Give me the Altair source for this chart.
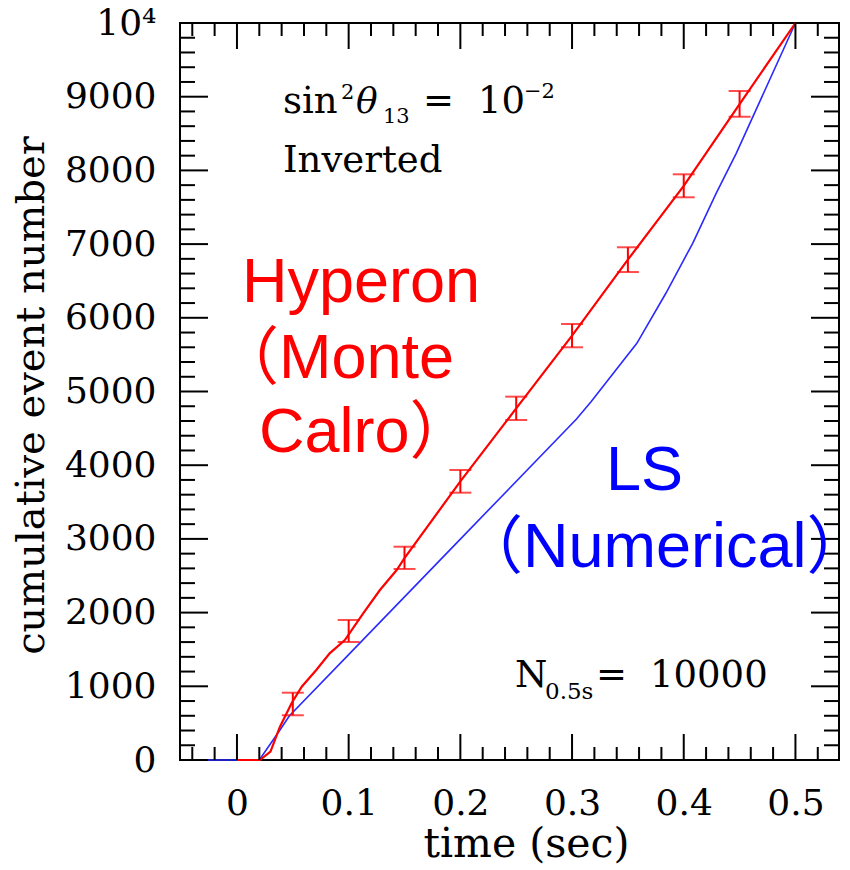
import altair as alt
import pandas as pd

# ---------------- data ----------------
red_time = [0.0, 0.0206, 0.03, 0.0385, 0.049, 0.058, 0.071, 0.083, 0.0966, 0.113,
            0.128, 0.143, 0.15, 0.2, 0.25, 0.3, 0.35, 0.4, 0.45, 0.5]
red_count = [0, 0, 113, 452, 773, 995, 1221, 1447, 1628, 1990,
             2306, 2578, 2740, 3780, 4770, 5758, 6789, 7790, 8900, 10000]

blue_time = [-0.051, 0.02, 0.0385, 0.047, 0.1, 0.2, 0.304, 0.317, 0.358, 0.384,
             0.408, 0.429, 0.447, 0.5]
blue_count = [0, 0, 407, 600, 1430, 2997, 4627, 4860, 5654, 6333,
              7011, 7689, 8232, 10000]

err_time = [0.05, 0.1, 0.15, 0.2, 0.25, 0.3, 0.35, 0.4, 0.45]
err_lo = [607, 1601, 2592, 3627, 4613, 5600, 6621, 7635, 8728]
err_hi = [913, 1900, 2894, 3935, 4930, 5916, 6957, 7947, 9077]

x_major = [0, 0.1, 0.2, 0.3, 0.4, 0.5]
x_minor = [-0.04, -0.02, 0.02, 0.04, 0.06, 0.08, 0.12, 0.14, 0.16, 0.18,
           0.22, 0.24, 0.26, 0.28, 0.32, 0.34, 0.36, 0.38, 0.42, 0.44,
           0.46, 0.48, 0.52]
y_major = [0, 1000, 2000, 3000, 4000, 5000, 6000, 7000, 8000, 9000, 10000]
y_minor = [v for v in range(200, 10000, 200) if v % 1000 != 0]

X_DOMAIN = [-0.051, 0.539]
Y_DOMAIN = [0, 10000]

W, H = 659, 737
LEFT, TOP = 180, 23
SERIF = "DejaVu Serif"
SANS = "Liberation Sans, Arial, Noto Sans CJK JP"

xs = alt.Scale(domain=X_DOMAIN, nice=False, zero=False)
ys = alt.Scale(domain=Y_DOMAIN, nice=False, zero=False)

red_df = pd.DataFrame({"t": red_time, "n": red_count})
blue_df = pd.DataFrame({"t": blue_time, "n": blue_count})
err_df = pd.DataFrame({"t": err_time, "lo": err_lo, "hi": err_hi})

x_axis = alt.Axis(values=x_major, ticks=False, tickSize=0, domain=False, grid=False,
                  format="~g",
                  labelFont=SERIF, labelFontSize=36, labelColor="black",
                  labelBaseline="alphabetic", labelPadding=54,
                  title="time (sec)", titleFont=SERIF, titleFontSize=41,
                  titleFontWeight="normal", titleColor="black",
                  titleX=346, titleY=96, titleAlign="center", titleBaseline="alphabetic")
y_axis = alt.Axis(values=y_major, ticks=False, tickSize=0, domain=False, grid=False,
                  labelFont=SERIF, labelFontSize=36, labelColor="black",
                  labelPadding=24, format="d",
                  labelExpr="datum.value == 10000 ? '10\u2074' : datum.label",
                  title="cumulative event number", titleFont=SERIF, titleFontSize=40,
                  titleFontWeight="normal", titleColor="black",
                  titleX=-137, titleY=372, titleAlign="center", titleBaseline="alphabetic",
                  titleAngle=270)

XQ = lambda f: alt.X(f, scale=xs)
YQ = lambda f: alt.Y(f, scale=ys)

blue = alt.Chart(blue_df).mark_line(color="#2a2aff", strokeWidth=1.6).encode(
    x=alt.X("t:Q", scale=xs, axis=x_axis),
    y=alt.Y("n:Q", scale=ys, axis=y_axis),
)
red = alt.Chart(red_df).mark_line(color="#ff0000", strokeWidth=2.2).encode(
    x=XQ("t:Q"), y=YQ("n:Q"))
err_v = alt.Chart(err_df).mark_rule(color="#ff0000", strokeWidth=2).encode(
    x=XQ("t:Q"), y=YQ("lo:Q"), y2="hi:Q")
cap_lo = alt.Chart(err_df).mark_tick(color="#ff0000", orient="horizontal", size=22, thickness=2).encode(
    x=XQ("t:Q"), y=YQ("lo:Q"))
cap_hi = alt.Chart(err_df).mark_tick(color="#ff0000", orient="horizontal", size=22, thickness=2).encode(
    x=XQ("t:Q"), y=YQ("hi:Q"))


def xticks(vals, length):
    df = pd.DataFrame({"t": vals})
    bottom = alt.Chart(df).mark_rule(color="black", strokeWidth=2).encode(
        x=XQ("t:Q"), y=alt.value(H), y2=alt.value(H - length))
    top = alt.Chart(df).mark_rule(color="black", strokeWidth=2).encode(
        x=XQ("t:Q"), y=alt.value(0), y2=alt.value(length))
    return [bottom, top]


def yticks(vals, length):
    df = pd.DataFrame({"n": vals})
    left = alt.Chart(df).mark_rule(color="black", strokeWidth=2).encode(
        y=YQ("n:Q"), x=alt.value(0), x2=alt.value(length))
    right = alt.Chart(df).mark_rule(color="black", strokeWidth=2).encode(
        y=YQ("n:Q"), x=alt.value(W), x2=alt.value(W - length))
    return [left, right]


def txt(s, x, y, size, color="black", font=SERIF, style="normal"):
    return alt.Chart(pd.DataFrame({"s": [s]})).mark_text(
        align="left", baseline="alphabetic", fontSize=size, font=font,
        color=color, fontStyle=style).encode(
        x=alt.value(x - LEFT), y=alt.value(y - TOP), text="s:N")


texts = [
    txt("sin", 283, 113, 37),
    txt("2", 341, 99, 21),
    txt("\u03b8", 356, 113, 36, style="italic"),
    txt("13", 383, 123, 21),
    txt("=", 423, 113, 37),
    txt("10", 478, 113, 37),
    txt("\u22122", 524, 98, 21),
    txt("Inverted", 283, 172, 37),
    txt("N", 515, 687, 37),
    txt("0.5s", 545, 699, 23),
    txt("=", 596, 687, 37),
    txt("10000", 650, 687, 37),
    txt("Hyperon", 242, 302, 63, color="#ff0000", font=SANS),
    txt("\uff08Monte", 216, 378, 63, color="#ff0000", font=SANS),
    txt("Calro\uff09", 259, 452, 63, color="#ff0000", font=SANS),
    txt("LS", 606, 490, 63, color="#0000ff", font=SANS),
    txt("\uff08Numerical\uff09", 460, 567, 63, color="#0000ff", font=SANS),
]

layers = [blue, red, err_v, cap_lo, cap_hi]
layers += xticks(x_major, 26) + xticks(x_minor, 13)
layers += yticks(y_major, 28) + yticks(y_minor, 15)
layers += texts

chart = alt.layer(*layers).properties(
    width=W, height=H,
    autosize=alt.AutoSizeParams(type="none"),
    padding={"left": LEFT, "top": TOP, "right": 850 - LEFT - W, "bottom": 870 - TOP - H},
    background="white",
).configure_view(stroke="black", strokeWidth=2)

chart.save("out.html", embed_options={"renderer": "svg", "actions": False})
